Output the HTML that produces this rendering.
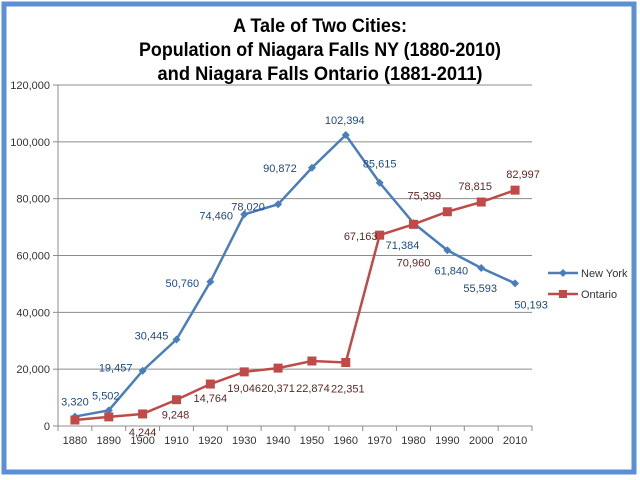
<!DOCTYPE html>
<html><head><meta charset="utf-8"><style>
body{margin:0;background:#fff;}
svg{display:block;font-family:"Liberation Sans",sans-serif;}
</style></head><body>
<svg id="c" width="640" height="480">
<rect x="0" y="0" width="640" height="480" fill="#fff"/>
<rect x="4" y="4" width="630" height="468" fill="#fff" stroke="#5b8fd6" stroke-width="5"/>
<text x="320" y="32" text-anchor="middle" font-size="19" font-weight="bold" textLength="174" lengthAdjust="spacingAndGlyphs">A Tale of Two Cities:</text>
<text x="320" y="56" text-anchor="middle" font-size="19" font-weight="bold" textLength="362" lengthAdjust="spacingAndGlyphs">Population of Niagara Falls NY (1880-2010)</text>
<text x="320" y="80" text-anchor="middle" font-size="19" font-weight="bold" textLength="325" lengthAdjust="spacingAndGlyphs">and Niagara Falls Ontario (1881-2011)</text>
<g id="grid"></g><g id="axes"></g><g id="series"></g>
<g>
<g>
<line x1="548" y1="273" x2="578" y2="273" stroke="#4a7ebb" stroke-width="2.5"/>
<path d="M563 269 L567 273 L563 277 L559 273Z" fill="#4a7ebb"/>
<text x="581" y="277" font-size="11" fill="#333">New York</text></g>
<g>
<line x1="548" y1="294" x2="578" y2="294" stroke="#be4b48" stroke-width="2.5"/>
<rect x="559" y="290" width="8" height="8" fill="#be4b48"/>
<text x="581" y="298" font-size="11" fill="#333">Ontario</text></g>
</g>
</svg>
<script>
const categories=[1880,1890,1900,1910,1920,1930,1940,1950,1960,1970,1980,1990,2000,2010];
const newYork=[3320,5502,19457,30445,50760,74460,78020,90872,102394,85615,71384,61840,55593,50193];
const ontario=[2100,3200,4244,9248,14764,19046,20371,22874,22351,67163,70960,75399,78815,82997];
const ontarioLabeled=[false,false,true,true,true,true,true,true,true,true,true,true,true,true];
const yTicks=[0,20000,40000,60000,80000,100000,120000];
const nyOff=[[0,-15],[-3,-15],[-27,-3],[-25,-4],[-28,1],[-28,1],[-30,2],[-32,0],[-1,-15],[0,-19],[-11,22],[4,20],[-1,20],[16,21]];
const onOff=[[0,0],[0,0],[0,18],[-1,15],[0,14],[0,16],[0,20],[1,27],[2,26],[-19,1],[0,38],[-23,-16],[-6,-16],[8,-16]];
const L=58,R=532,T=85,B=426,yMax=120000;
const step=(R-L)/categories.length;
const X=i=>L+step*(i+0.5);
const Y=v=>B-v/yMax*(B-T);
const NS="http://www.w3.org/2000/svg";
function mk(tag,attrs,parent){const e=document.createElementNS(NS,tag);for(const k in attrs)e.setAttribute(k,attrs[k]);parent.appendChild(e);return e;}
const grid=document.getElementById('grid'),axes=document.getElementById('axes'),ser=document.getElementById('series');
const fmt=v=>v.toLocaleString('en-US');
yTicks.forEach(t=>{
  if(t>0){const g=mk('line',{x1:L,x2:R,y1:Y(t),y2:Y(t),stroke:'#8c8c8c','stroke-width':1},grid);
  
  }
  const tk=mk('line',{x1:L-5,x2:L,y1:Y(t),y2:Y(t),stroke:'#8c8c8c'},axes);
  const tx=mk('text',{x:L-8,y:Y(t)+4,'text-anchor':'end','font-size':11,fill:'#333'},axes);
  tx.textContent=fmt(t);
  
  
});
const ya=mk('line',{x1:L,x2:L,y1:T,y2:B,stroke:'#8c8c8c'},axes);


const xa=mk('line',{x1:L,x2:R,y1:B,y2:B,stroke:'#8c8c8c'},axes);


for(let i=0;i<=categories.length;i++)mk('line',{x1:L+step*i,x2:L+step*i,y1:B,y2:B+5,stroke:'#8c8c8c'},axes);
categories.forEach((c,i)=>{
  const t=mk('text',{x:X(i),y:B+18,'text-anchor':'middle','font-size':11,fill:'#333'},axes);
  t.textContent=c;
  
  
});
function drawSeries(vals,color,name,marker,off,lblColor,labeled){
  const p=mk('polyline',{points:vals.map((v,i)=>X(i)+','+Y(v)).join(' '),fill:'none',stroke:color,'stroke-width':2.5},ser);
  
  
  vals.forEach((v,i)=>{
    const x=X(i),y=Y(v);let m;
    if(marker==='d')m=mk('path',{d:`M${x} ${y-4}L${x+4} ${y}L${x} ${y+4}L${x-4} ${y}Z`,fill:color},ser);
    else m=mk('rect',{x:x-4.5,y:y-4.5,width:9,height:9,fill:color},ser);
    
    
    if(!labeled||labeled[i]){
      const t=mk('text',{x:x+off[i][0],y:y+off[i][1]+4,'text-anchor':'middle','font-size':11,fill:lblColor},ser);
      t.textContent=fmt(v);
      
      
    }
  });
}
drawSeries(newYork,'#4a7ebb','new-york','d',nyOff,'#1f497d',null);
drawSeries(ontario,'#be4b48','ontario','s',onOff,'#632523',ontarioLabeled);
</script>
</body></html>
